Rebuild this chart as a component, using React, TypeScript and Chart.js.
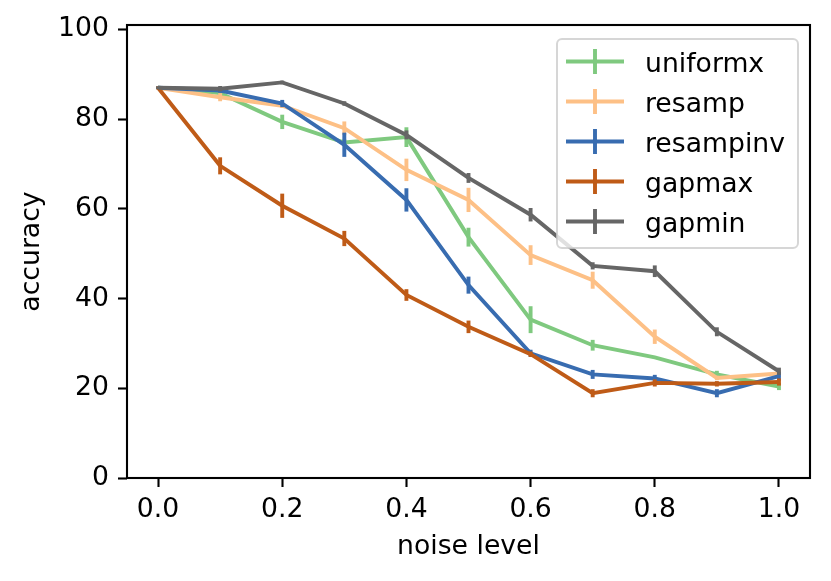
import { useEffect, useRef } from 'react';
import { Chart, registerables } from 'chart.js';

Chart.register(...registerables);

const noiseLevels = [0.0, 0.1, 0.2, 0.3, 0.4, 0.5, 0.6, 0.7, 0.8, 0.9, 1.0];
const xTicks = [0.0, 0.2, 0.4, 0.6, 0.8, 1.0];
const yTicks = [0, 20, 40, 60, 80, 100];

const seriesNames = ['uniformx', 'resamp', 'resampinv', 'gapmax', 'gapmin'];
const seriesColors = ['#7fc97f', '#fdc086', '#386cb0', '#bf5b17', '#666666'];

const uniformx = [87.0, 85.8, 79.4, 74.8, 76.0, 53.7, 35.3, 29.6, 26.9, 23.1, 20.4];
const uniformxErr = [0.3, 0.6, 1.6, 0.7, 2.2, 2.1, 3.0, 1.2, 0.3, 0.8, 0.8];
const resamp = [87.0, 84.9, 83.0, 78.0, 68.7, 62.0, 49.7, 44.1, 31.5, 22.3, 23.3];
const resampErr = [0.3, 0.9, 0.5, 1.5, 2.5, 2.7, 2.2, 1.9, 1.6, 0.5, 0.8];
const resampinv = [87.0, 86.4, 83.5, 74.3, 62.0, 43.0, 27.8, 23.1, 22.2, 18.9, 22.7];
const resampinvErr = [0.3, 0.5, 0.8, 2.7, 2.6, 1.9, 0.8, 1.0, 0.8, 0.9, 1.0];
const gapmax = [87.0, 69.6, 60.7, 53.4, 40.8, 33.7, 27.6, 18.9, 21.2, 21.0, 21.4];
const gapmaxErr = [0.3, 1.9, 2.7, 1.7, 1.3, 1.4, 0.6, 0.9, 0.8, 0.6, 0.8];
const gapmin = [87.0, 86.8, 88.2, 83.5, 76.5, 66.9, 58.7, 47.3, 46.1, 32.6, 23.8];
const gapminErr = [0.3, 0.6, 0.4, 0.5, 1.0, 1.1, 1.5, 0.8, 1.3, 1.0, 0.8];

const seriesValues = [uniformx, resamp, resampinv, gapmax, gapmin];
const seriesErrors = [uniformxErr, resampErr, resampinvErr, gapmaxErr, gapminErr];

const FONT = 'DejaVu Sans';
const FONT_SIZE = 26.67;
const LINE_W = 3.9;

// vertical error bars, drawn right after each dataset's line
const errorBarPlugin = {
  id: 'errorBars',
  afterDatasetDraw(chart: any, args: any) {
    const { ctx, chartArea, scales } = chart;
    const errs = seriesErrors[args.index];
    const vals = seriesValues[args.index];
    ctx.save();
    ctx.beginPath();
    ctx.rect(chartArea.left, chartArea.top, chartArea.right - chartArea.left, chartArea.bottom - chartArea.top);
    ctx.clip();
    ctx.strokeStyle = seriesColors[args.index];
    ctx.lineWidth = LINE_W;
    ctx.lineCap = 'butt';
    args.meta.data.forEach((pt: any, i: number) => {
      const top = scales.y.getPixelForValue(vals[i] + errs[i]);
      const bot = scales.y.getPixelForValue(vals[i] - errs[i]);
      ctx.beginPath();
      ctx.moveTo(pt.x, top);
      ctx.lineTo(pt.x, bot);
      ctx.stroke();
    });
    ctx.restore();
  },
};

// axes frame + matplotlib-like legend in the upper right
const frameLegendPlugin = {
  id: 'frameLegend',
  afterDraw(chart: any) {
    const { ctx, chartArea } = chart;
    ctx.save();
    ctx.strokeStyle = '#000';
    ctx.lineWidth = 2.1;
    ctx.strokeRect(chartArea.left, chartArea.top, chartArea.right - chartArea.left, chartArea.bottom - chartArea.top);

    const boxW = 241;
    const boxH = 209;
    const boxR = chartArea.right - 12;
    const boxT = chartArea.top + 14;
    const boxL = boxR - boxW;
    ctx.beginPath();
    ctx.roundRect(boxL, boxT, boxW, boxH, 5);
    ctx.fillStyle = 'rgba(255,255,255,0.8)';
    ctx.fill();
    ctx.strokeStyle = 'rgba(204,204,204,0.8)';
    ctx.lineWidth = 2;
    ctx.stroke();

    ctx.font = `${FONT_SIZE}px "${FONT}"`;
    ctx.textBaseline = 'alphabetic';
    ctx.textAlign = 'left';
    chart.data.datasets.forEach((ds: any, i: number) => {
      const cy = boxT + 22.5 + i * 40;
      ctx.strokeStyle = ds.borderColor;
      ctx.lineWidth = LINE_W;
      ctx.beginPath();
      ctx.moveTo(boxL + 9, cy);
      ctx.lineTo(boxL + 67, cy);
      ctx.moveTo(boxL + 38, cy - 12.5);
      ctx.lineTo(boxL + 38, cy + 12.5);
      ctx.stroke();
      ctx.fillStyle = '#000';
      ctx.fillText(ds.label, boxL + 88, cy + 10);
    });
    ctx.restore();
  },
};

export default function App() {
  const canvasRef = useRef<HTMLCanvasElement>(null);
  const chartRef = useRef<Chart | null>(null);

  useEffect(() => {
    if (!canvasRef.current) return;
    chartRef.current?.destroy();
    const ctx = canvasRef.current.getContext('2d');
    if (!ctx) return;

    Chart.defaults.color = '#000';
    Chart.defaults.font.family = FONT;

    chartRef.current = new Chart(ctx, {
      type: 'line',
      data: {
        datasets: seriesNames.map((name, i) => ({
          label: name,
          data: noiseLevels.map((x, j) => ({ x, y: seriesValues[i][j] })),
          borderColor: seriesColors[i],
          backgroundColor: seriesColors[i],
          borderWidth: LINE_W,
          pointRadius: 0,
          pointHoverRadius: 0,
          tension: 0,
          fill: false,
          order: seriesNames.length - 1 - i,
        })),
      },
      options: {
        responsive: false,
        animation: false,
        layout: { padding: { top: 25, right: 21, left: 0, bottom: 0 } },
        plugins: {
          legend: { display: false },
          tooltip: { enabled: false },
        },
        scales: {
          x: {
            type: 'linear',
            min: -0.05,
            max: 1.05,
            afterBuildTicks: (s: any) => {
              s.ticks = xTicks.map(v => ({ value: v }));
            },
            afterFit: (s: any) => {
              s.height = 103;
            },
            ticks: {
              font: { size: FONT_SIZE },
              padding: 7,
              callback: (v: any) => Number(v).toFixed(1),
            },
            grid: { drawOnChartArea: false, drawTicks: true, tickLength: 9, tickWidth: 2.1, tickColor: '#000' },
            border: { display: false },
            title: { display: true, text: 'noise level', font: { size: FONT_SIZE }, padding: { top: 0, bottom: 18 } },
          },
          y: {
            type: 'linear',
            min: 0,
            max: 101,
            afterBuildTicks: (s: any) => {
              s.ticks = yTicks.map(v => ({ value: v }));
            },
            afterFit: (s: any) => {
              s.width = 127;
            },
            ticks: {
              font: { size: FONT_SIZE },
              padding: 9,
              callback: (v: any) => String(v),
            },
            grid: { drawOnChartArea: false, drawTicks: true, tickLength: 9, tickWidth: 2.1, tickColor: '#000' },
            border: { display: false },
            title: { display: true, text: 'accuracy', font: { size: FONT_SIZE }, padding: { top: 16, bottom: 0 } },
          },
        },
      },
      plugins: [errorBarPlugin, frameLegendPlugin],
    });

    return () => {
      chartRef.current?.destroy();
    };
  }, []);

  return (
    <div style={{ position: 'absolute', left: 0, top: 0, width: 831, height: 581, background: '#fff' }}>
      <canvas ref={canvasRef} width={831} height={581} />
    </div>
  );
}
